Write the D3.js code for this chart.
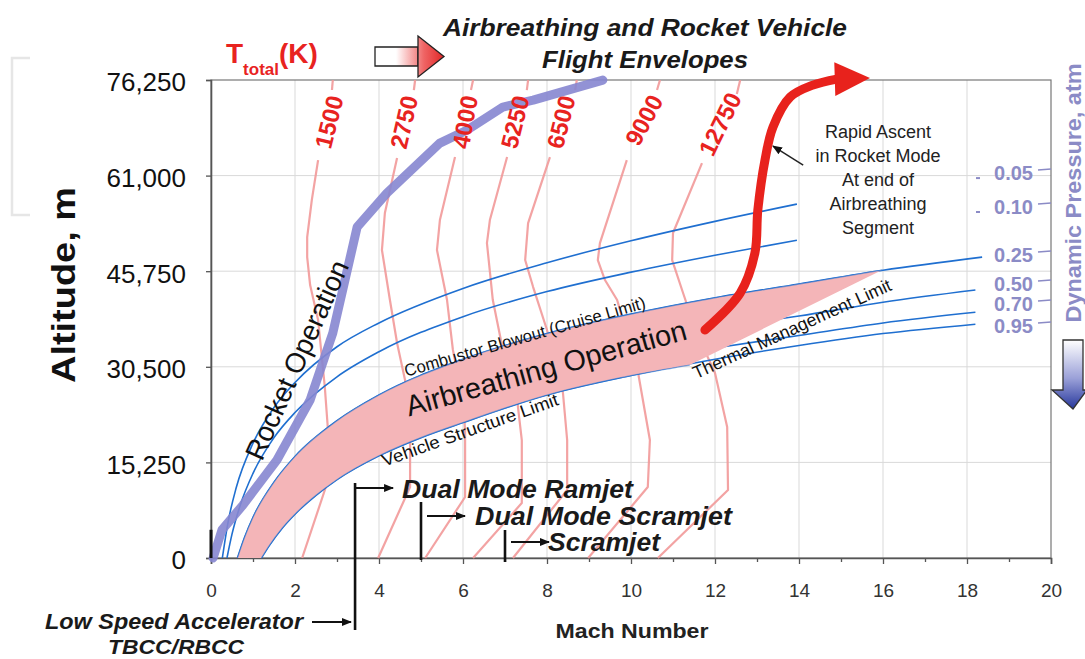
<!DOCTYPE html>
<html><head><meta charset="utf-8">
<script src="https://cdn.jsdelivr.net/npm/d3@7"></script>
<style>
body{margin:0;background:#fff}
svg{display:block}
text{font-family:'Liberation Sans',Arial,Helvetica,sans-serif}
</style>
</head><body>
<svg id="c" width="1085" height="659"></svg>
<script>
// ---------------- DATA ----------------
const machTicks = [0,2,4,6,8,10,12,14,16,18,20];
const machMinor = [1,3,5,7,9,11,13,15,17,19];
const altTicks  = [0,15250,30500,45750,61000,76250];

// Total temperature isolines [Mach, altitude m]
const tempLabels = ["1500","2750","4000","5250","6500","9000","12750"];
const t1500  = [[2.17,0],[2.79,12440],[2.79,19940],[2.71,27270],[2.55,37960],[2.36,43540],[2.29,48010],[2.29,51200],[2.40,57100],[2.55,63480]];
const t2750  = [[3.98,0],[4.74,11320],[4.74,20420],[4.62,28390],[4.43,34290],[4.26,41150],[4.07,49130],[4.14,55030],[4.43,63800]];
const t4000  = [[5.10,0],[6.05,9730],[6.05,20420],[6.00,25200],[5.76,33180],[5.62,41150],[5.38,49130],[5.45,53910],[5.81,63960]];
const t5250  = [[6.24,0],[7.40,8770],[7.40,18820],[7.29,25200],[6.95,33180],[6.71,41150],[6.57,50240],[6.64,53910],[7.05,63960]];
const t6500  = [[7.19,0],[8.48,10850],[8.48,18820],[8.38,26320],[8.00,36370],[7.67,43220],[7.48,47530],[7.55,53430],[8.07,63960]];
const t9000  = [[8.98,0],[10.40,11320],[10.45,18820],[10.17,29510],[9.67,41150],[9.38,44340],[9.21,47530],[9.26,50240],[9.90,63480]];
const t12750 = [[10.64,0],[12.31,10850],[12.29,20890],[12.0,29510],[11.64,34770],[11.40,39080],[11.24,42270],[10.98,47530],[11.0,51840],[11.69,63000]];
// short pieces above the labels
const tempTops = [[[2.88,74650],[2.90,76250]],[[4.83,74650],[4.86,76250]],[[6.19,74650],[6.24,76250]],
                  [[7.52,74650],[7.55,76250]],[[8.67,74650],[8.71,76250]],[[10.62,74650],[10.69,76250]],[[12.52,74000],[12.60,76250]]];

// Dynamic pressure lines [Mach, altitude m]
const qLabels = ["0.05","0.10","0.25","0.50","0.70","0.95"];
const q005 = [[0.27,0],[0.4,5500],[0.6,11200],[1,18300],[1.5,24000],[2,28000],[3,33700],[4,37500],[6,43000],[8,47100],[10,50600],[12,53700],[13.95,56460]];
const q010 = [[0.38,0],[0.5,3800],[0.7,8500],[1,13500],[1.5,19200],[2,23200],[3,28900],[4,32900],[6,38500],[8,42500],[10,45600],[12,48300],[13.95,50700]];
const q025 = [[0.63,0],[0.8,3300],[1,6500],[1.5,12100],[2,16200],[3,21900],[4,26000],[6,31700],[8,35800],[10,38900],[12,41500],[14,43700],[16,45900],[18.36,48000]];
const q050 = [[0.85,0],[1,2200],[1.5,7800],[2,11800],[3,17500],[4,21500],[6,27200],[8,31200],[10,34300],[12,36800],[14,38600],[16,40800],[18.2,42750]];
const q070 = [[1.0,0],[1.2,2500],[1.5,5500],[2,9300],[3,14900],[4,18800],[6,24400],[8,28300],[10,31300],[12,33500],[14,35500],[16,37500],[18.2,39200]];
const q095 = [[1.2,0],[1.4,2100],[1.7,4800],[2,7000],[2.5,10000],[3,12500],[4,16300],[5,19200],[6,21600],[8,26000],[10,29100],[12,31700],[14,33900],[16,35800],[18.2,37300]];
const qLabelAlt = [61400,55990,48330,43700,40510,37000];

// Airbreathing corridor corners: tip on 0.25 line, thermal-limit corner on 0.95 line
const bandTip = [15.98,45940];
const bandCorner = [11.40,30780];

// Rocket operation line
const rocketPath = [[0.05,0],[0.26,4470],[0.76,8450],[1.57,15630],[2.36,25200],[2.90,35890],[3.48,52790],[4.19,58220],[5.45,66190],[6.10,68270],[6.95,71930],[7.67,73050],[9.33,76240]];

// Rapid ascent in rocket mode
const ascentPath = [[11.76,36370],[12.60,42270],[12.95,48650],[13.02,55510],[13.19,63480],[13.38,68740],[13.79,73530],[14.33,75440],[14.90,76400]];
const ascentTip = [15.69,76560];
const pointer = [[14.1,62680],[13.38,65710]];

// Propulsion mode start Mach numbers
const modeNames = ["Dual Mode Ramjet","Dual Mode Scramjet","Scramjet"];
const modeMach  = [3.43,5.0,7.0];
const lowSpeedMach = 0;

// ---------------- CHART ----------------
const F = "'Liberation Sans',Arial,Helvetica,sans-serif";
const svg = d3.select("#c");
const x = d3.scaleLinear().domain([0,20]).range([211,1051]);
const y = d3.scaleLinear().domain([0,76250]).range([558,80]);
const lin = d3.line().x(d=>x(d[0])).y(d=>y(d[1]));
const smooth = d3.line().x(d=>x(d[0])).y(d=>y(d[1])).curve(d3.curveMonotoneX);
const defs = svg.append("defs");

// gradients & markers
const gR = defs.append("linearGradient").attr("id","gRed").attr("gradientUnits","userSpaceOnUse")
  .attr("x1",375).attr("x2",445).attr("y1",0).attr("y2",0);
gR.append("stop").attr("offset",0).attr("stop-color","#ffffff");
gR.append("stop").attr("offset",0.3).attr("stop-color","#ffffff");
gR.append("stop").attr("offset",0.7).attr("stop-color","#ef6464");
gR.append("stop").attr("offset",1).attr("stop-color","#e02424");
const gB = defs.append("linearGradient").attr("id","gBlue").attr("gradientUnits","userSpaceOnUse")
  .attr("x1",0).attr("x2",0).attr("y1",340).attr("y2",410);
gB.append("stop").attr("offset",0).attr("stop-color","#ffffff");
gB.append("stop").attr("offset",0.55).attr("stop-color","#9aa0d8");
gB.append("stop").attr("offset",1).attr("stop-color","#23349a");
defs.append("marker").attr("id","ah").attr("viewBox","0 0 10 10").attr("refX",9).attr("refY",5)
  .attr("markerWidth",10).attr("markerHeight",10).attr("markerUnits","userSpaceOnUse").attr("orient","auto")
  .append("path").attr("d","M0,1L10,5L0,9z").attr("fill","#111");

// grid
const g = svg.append("g");
g.selectAll(".vg").data(machTicks.slice(1,-1)).join("line")
  .attr("x1",d=>x(d)).attr("x2",d=>x(d)).attr("y1",y(76250)).attr("y2",y(0))
  .attr("stroke","#d9d9d9").attr("stroke-width",1);
g.selectAll(".hg").data(altTicks.slice(1,-1)).join("line")
  .attr("y1",d=>y(d)).attr("y2",d=>y(d)).attr("x1",x(0)).attr("x2",x(20))
  .attr("stroke","#d9d9d9").attr("stroke-width",1);
g.append("rect").attr("x",x(0)).attr("y",y(76250)).attr("width",x(20)-x(0)).attr("height",y(0)-y(76250))
  .attr("fill","none").attr("stroke","#777").attr("stroke-width",1.2);

// axes
const xa = svg.append("g").attr("transform",`translate(0,${y(0)})`)
  .call(d3.axisBottom(x).tickValues(machTicks).tickSize(6).tickPadding(20).tickFormat(d3.format("d")));
svg.append("g").attr("transform",`translate(0,${y(0)})`)
  .call(d3.axisBottom(x).tickValues(machMinor).tickSize(4).tickFormat(""))
  .call(s=>s.select(".domain").remove());
const ya = svg.append("g").attr("transform",`translate(${x(0)},0)`)
  .call(d3.axisLeft(y).tickValues(altTicks).tickSize(5).tickPadding(20).tickFormat(d3.format(",")));
svg.selectAll(".domain").attr("stroke","#555").attr("stroke-width",1.6);
svg.selectAll(".tick line").attr("stroke","#555").attr("stroke-width",1.3);
xa.selectAll("text").attr("font-size",19).attr("fill","#333").attr("font-family",F);
ya.selectAll("text").attr("font-size",26).attr("fill","#111").attr("font-family",F).attr("dy","0.42em");

// temperature lines
const temps = [t1500,t2750,t4000,t5250,t6500,t9000,t12750];
const tg = svg.append("g").attr("fill","none").attr("stroke","#f29a9a").attr("stroke-width",2.2).attr("stroke-linejoin","round").attr("opacity",0.9);
temps.forEach(t=>tg.append("path").attr("d",lin(t)));
tempTops.forEach(t=>tg.append("path").attr("d",lin(t)));

// dynamic pressure lines
const qs = [q005,q010,q025,q050,q070,q095];
const qg = svg.append("g").attr("fill","none").attr("stroke","#1f6fd0").attr("stroke-width",1.6);
qs.forEach(q=>qg.append("path").attr("d",smooth(q)));

// airbreathing corridor
const topEdge = q025.filter(d=>d[0]<bandTip[0]).concat([bandTip]);
const botEdge = q095.filter(d=>d[0]<bandCorner[0]).concat([bandCorner]);
function sample(pts){
  const p = document.createElementNS("http://www.w3.org/2000/svg","path");
  p.setAttribute("d",smooth(pts)); svg.node().appendChild(p);
  const L = p.getTotalLength(), out=[];
  for(let i=0;i<=200;i++){const q=p.getPointAtLength(L*i/200); out.push([q.x,q.y]);}
  p.remove(); return out;
}
const topPx = sample(topEdge), botPx = sample(botEdge);
svg.append("path").attr("d","M"+topPx.map(p=>p.join(",")).join("L")+"L"+botPx.reverse().map(p=>p.join(",")).join("L")+"Z")
  .attr("fill","#f4b5b8").attr("stroke","none");
svg.append("path").attr("d",smooth(topEdge)).attr("fill","none").attr("stroke","#1f6fd0").attr("stroke-width",1.2).attr("opacity",0.55);
svg.append("path").attr("d",smooth(botEdge)).attr("fill","none").attr("stroke","#1f6fd0").attr("stroke-width",1.2).attr("opacity",0.55);

// rocket operation line
svg.append("path").attr("d",lin(rocketPath)).attr("fill","none").attr("stroke","#8686d0")
  .attr("stroke-width",9).attr("stroke-linejoin","round").attr("stroke-linecap","round").attr("opacity",0.9);

// rapid ascent arrow
svg.append("path").attr("d",d3.line().x(d=>x(d[0])).y(d=>y(d[1])).curve(d3.curveCatmullRom)(ascentPath))
  .attr("fill","none").attr("stroke","#e8221c").attr("stroke-width",9).attr("stroke-linecap","round");
{
  const a = ascentPath[ascentPath.length-1], b = ascentTip;
  const ax=x(a[0]), ay=y(a[1]), bx=x(b[0]), by=y(b[1]);
  const dx=bx-ax, dy=by-ay, L=Math.hypot(dx,dy), nx=-dy/L, ny=dx/L, w=17;
  const bx0 = ax - dx/L*2, by0 = ay - dy/L*2;
  svg.append("path").attr("d",`M${bx0+nx*w},${by0+ny*w}L${bx},${by}L${bx0-nx*w},${by0-ny*w}Z`).attr("fill","#e8221c");
}
// pointer arrow
svg.append("line").attr("x1",x(pointer[0][0])).attr("y1",y(pointer[0][1])).attr("x2",x(pointer[1][0])).attr("y2",y(pointer[1][1]))
  .attr("stroke","#222").attr("stroke-width",1.5).attr("marker-end","url(#ah)");

// ---------------- TEXT ----------------
function txt(s, x0, y0, o={}){
  const t = svg.append("text").attr("x",x0).attr("y",y0).text(s)
    .attr("font-size",o.size||16).attr("fill",o.fill||"#111")
    .attr("font-weight",o.weight||"normal").attr("font-style",o.style||"normal")
    .attr("text-anchor",o.anchor||"start");
  if(o.rot!==undefined) t.attr("transform",`rotate(${o.rot},${x0},${y0})`);
  if(o.len) t.attr("textLength",o.len).attr("lengthAdjust","spacingAndGlyphs");
  if(o.base) t.attr("dominant-baseline",o.base);
  return t;
}
// temperature labels
const tLab = [[329,122,-76],[404,122,-77],[465,122,-80],[515,122,-76],[561,122,-76],[644,120,-62],[720,124,-64]];
tempLabels.forEach((s,i)=>txt(s,tLab[i][0],tLab[i][1],{size:24,weight:"bold",fill:"#e8231f",anchor:"middle",rot:tLab[i][2],base:"central"}));

// T_total(K)
const tt = svg.append("text").attr("x",226).attr("y",63).attr("fill","#e8231f").attr("font-weight","bold").attr("font-size",28);
tt.append("tspan").text("T");
tt.append("tspan").text("total").attr("font-size",17).attr("dy",12);
tt.append("tspan").text("(K)").attr("dy",-12);
// block arrow
svg.append("path").attr("d","M375,47H418V66H375Z").attr("fill","url(#gRed)").attr("stroke","#222").attr("stroke-width",1.3);
svg.append("path").attr("d","M418,36L444,56.5L418,77Z").attr("fill","url(#gRed)").attr("stroke","#222").attr("stroke-width",1.3);

// title
txt("Airbreathing and Rocket Vehicle",645,36,{size:24,weight:"bold",style:"italic",anchor:"middle",fill:"#1a1a1a",len:404});
txt("Flight Envelopes",645,68,{size:24,weight:"bold",style:"italic",anchor:"middle",fill:"#1a1a1a",len:206});

// axis titles
txt("Altitude, m",75,285,{size:34,weight:"bold",anchor:"middle",rot:-90,len:196});
txt("Mach Number",632,638,{size:20,weight:"bold",anchor:"middle",fill:"#222",len:153});
txt("Dynamic Pressure, atm",1081,193,{size:22,weight:"bold",anchor:"middle",rot:-90,fill:"#8b8bc6",len:259});
// down arrow
svg.append("path").attr("d","M1063,340H1083V390H1087L1073,409L1052,390H1063Z").attr("fill","url(#gBlue)").attr("stroke","#333").attr("stroke-width",1.3);

// dynamic pressure labels
qLabels.forEach((s,i)=>{
  const yy = y(qLabelAlt[i]);
  txt(s,1033,yy,{size:20,weight:"bold",anchor:"end",fill:"#8b8bc6",base:"central"});
  svg.append("line").attr("x1",1038).attr("x2",1051).attr("y1",yy-3).attr("y2",yy-4).attr("stroke","#8b8bc6").attr("stroke-width",1.5);
});
[0,1].forEach(i=>svg.append("line").attr("x1",976).attr("x2",980).attr("y1",y(qLabelAlt[i])+5).attr("y2",y(qLabelAlt[i])+5)
  .attr("stroke","#8b8bc6").attr("stroke-width",2));

// region labels
txt("Rocket Operation",297,360,{size:28,anchor:"middle",rot:-66,base:"central",fill:"#111",len:215});
txt("Airbreathing Operation",546,368,{size:29,anchor:"middle",rot:-15.5,base:"central",fill:"#111",len:290});
txt("Combustor Blowout (Cruise Limit)",525,337,{size:17,anchor:"middle",rot:-16,base:"central",fill:"#111",len:250});
txt("Vehicle Structure Limit",470,430,{size:17.5,anchor:"middle",rot:-19.5,base:"central",fill:"#111",len:186});
txt("Thermal Management Limit",792,329,{size:18,anchor:"middle",rot:-24.5,base:"central",fill:"#111",len:216});

// rapid ascent note
["Rapid Ascent","in Rocket Mode","At end of","Airbreathing","Segment"].forEach((s,i)=>
  txt(s,878,138+i*24,{size:18,anchor:"middle",fill:"#222"}));

// propulsion mode markers
const modeBar = [[11960,-1150],[8930,-320],[4470,-640]];
const modeArrowY = [488,516,542];
modeMach.forEach((m,i)=>{
  const xx = x(m);
  svg.append("line").attr("x1",xx).attr("x2",xx).attr("y1",y(modeBar[i][0])).attr("y2",i===0?630:y(modeBar[i][1]))
    .attr("stroke","#111").attr("stroke-width",2.6);
  const ax0 = xx + (i===0?0:6);
  svg.append("line").attr("x1",ax0).attr("x2",ax0+38).attr("y1",modeArrowY[i]).attr("y2",modeArrowY[i])
    .attr("stroke","#111").attr("stroke-width",1.8).attr("marker-end","url(#ah)");
});
txt(modeNames[0],402,498,{size:25,weight:"bold",style:"italic",fill:"#1a1a1a",len:231});
txt(modeNames[1],475,525,{size:25,weight:"bold",style:"italic",fill:"#1a1a1a",len:257});
txt(modeNames[2],548,551,{size:25,weight:"bold",style:"italic",fill:"#1a1a1a",len:112});
// low speed accelerator
svg.append("line").attr("x1",x(lowSpeedMach)).attr("x2",x(lowSpeedMach)).attr("y1",y(4500)).attr("y2",y(0))
  .attr("stroke","#111").attr("stroke-width",3);
svg.append("line").attr("x1",312).attr("x2",351).attr("y1",622).attr("y2",622).attr("stroke","#111").attr("stroke-width",1.8).attr("marker-end","url(#ah)");
txt("Low Speed Accelerator",303,629,{size:22,weight:"bold",style:"italic",anchor:"end",fill:"#1a1a1a",len:258});
txt("TBCC/RBCC",176,654,{size:21,weight:"bold",style:"italic",anchor:"middle",fill:"#1a1a1a",len:136});

// left bracket
svg.append("path").attr("d","M30,58H12V215H30").attr("fill","none").attr("stroke","#e6e6e6").attr("stroke-width",2.5);
</script>
</body></html>
